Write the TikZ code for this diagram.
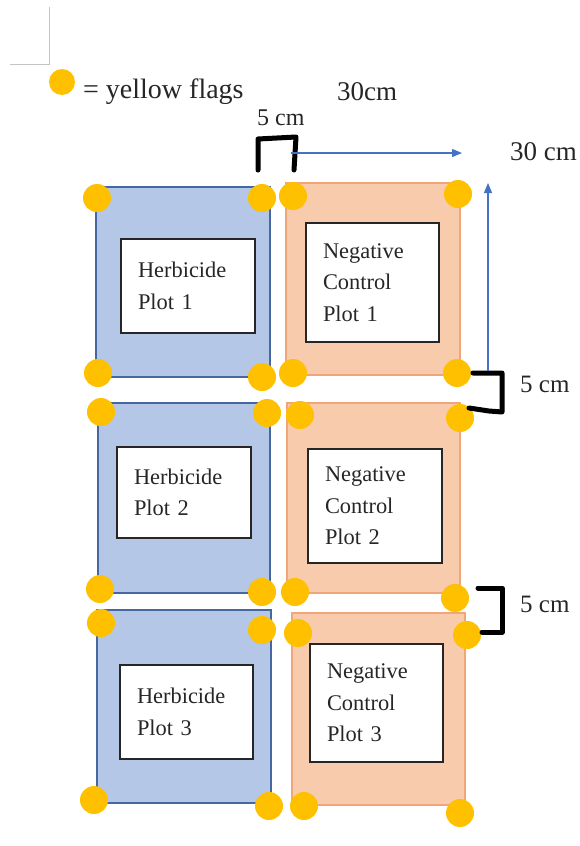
\documentclass[tikz,border=0pt]{standalone}
\usepackage{fontspec}
\setmainfont{Liberation Serif}
\usetikzlibrary{arrows.meta}

\definecolor{flagyellow}{HTML}{FFC000}
\definecolor{herbfill}{HTML}{B4C7E7}
\definecolor{herbline}{HTML}{46679F}
\definecolor{ctrlfill}{HTML}{F8CBAD}
\definecolor{ctrlline}{HTML}{F1A67A}
\definecolor{boxline}{HTML}{262626}
\definecolor{textgray}{HTML}{262626}
\definecolor{dimblue}{HTML}{4472C4}
\definecolor{guidegray}{HTML}{C4C4C4}

\tikzset{
  herbplot/.style={draw=herbline, fill=herbfill, line width=1.5pt, inner sep=0pt},
  ctrlplot/.style={draw=ctrlline, fill=ctrlfill, line width=1.5pt, inner sep=0pt},
  labelbox/.style={draw=boxline, fill=white, line width=2pt, align=left,
    inner xsep=17pt, inner ysep=0pt, text=textgray,
    font=\fontsize{22.4}{31.5}\selectfont},
  flag/.style={circle, fill=flagyellow, inner sep=0pt, minimum size=28pt},
  brace/.style={draw=black, line width=5pt, line join=round, line cap=round},
  dimarrow/.style={draw=dimblue, line width=1.2pt, -{Triangle[length=10pt,width=8pt]}},
  guideline/.style={draw=guidegray, line width=1pt},
  caption/.style={anchor=base west, inner sep=0pt, text=textgray}
}

\begin{document}
\begin{tikzpicture}[x=1pt, y=-1pt]
\useasboundingbox (0,0) rectangle (580,846);

% corner guide
\coordinate (g1) at (49,7);
\coordinate (g2) at (49,64);
\coordinate (g3) at (10,64);
\draw[guideline] (g1) -- (g2) -- (g3);

% legend
\node[flag, minimum size=26pt] (legdot) at (62,82) {};
\node[caption, font=\fontsize{28}{30}\selectfont] (legtext) at (83,98) {= yellow flags};

% dimension captions
\node[caption, font=\fontsize{27}{30}\selectfont] (widthtop) at (337,100) {30cm};
\node[caption, font=\fontsize{24}{28}\selectfont] (gaptop) at (257,125) {5 cm};
\node[caption, font=\fontsize{27}{30}\selectfont] (heightright) at (510,160) {30 cm};
\node[caption, font=\fontsize{25}{28}\selectfont] (gapright1) at (520,392) {5 cm};
\node[caption, font=\fontsize{25}{28}\selectfont] (gapright2) at (520,612) {5 cm};

% herbicide plots
\node[herbplot, minimum width=174pt, minimum height=190pt] (hplot1) at (183,282) {};
\node[herbplot, minimum width=172pt, minimum height=190pt] (hplot2) at (184,498) {};
\node[herbplot, minimum width=174pt, minimum height=193pt] (hplot3) at (184,706.5) {};

% negative control plots
\node[ctrlplot, minimum width=174pt, minimum height=192pt] (cplot1) at (373,279) {};
\node[ctrlplot, minimum width=173pt, minimum height=190pt] (cplot2) at (373.5,498) {};
\node[ctrlplot, minimum width=173pt, minimum height=192pt] (cplot3) at (378.5,709) {};

% plot labels
\node[labelbox, text width=100pt, minimum height=94pt] (hlabel1) at (188,286) {Herbicide\\Plot 1};
\node[labelbox, text width=100pt, minimum height=91pt] (hlabel2) at (184,492.5) {Herbicide\\Plot 2};
\node[labelbox, text width=99pt, minimum height=94pt] (hlabel3) at (186.5,712) {Herbicide\\Plot 3};
\node[labelbox, text width=99pt, minimum height=119pt] (clabel1) at (372.5,282.5) {Negative\\Control\\Plot 1};
\node[labelbox, text width=100pt, minimum height=114pt] (clabel2) at (375,506) {Negative\\Control\\Plot 2};
\node[labelbox, text width=99pt, minimum height=118pt] (clabel3) at (376.5,703) {Negative\\Control\\Plot 3};

% yellow corner flags
\foreach \n/\x/\y in {
  r1a/97/198, r1b/262/198, r1c/293/196, r1d/458/194,
  r1e/98/373, r1f/262/377, r1g/293/373, r1h/457/373,
  r2a/101/412, r2b/267/413, r2c/300/415, r2d/460/418,
  r2e/100/589, r2f/262/592, r2g/295/592, r2h/455/598,
  r3a/101/623, r3b/262/630, r3c/298/633, r3d/467/635,
  r3e/94/800, r3f/269/806, r3g/304/806, r3h/460/813}
  \node[flag] (flag-\n) at (\x,\y) {};

% 5 cm gap brackets
\coordinate (ta) at (258,170);
\coordinate (tb) at (258,139);
\coordinate (tc) at (296,137);
\coordinate (td) at (294,170);
\draw[brace] (ta) -- (tb) -- (tc) -- (td);

\coordinate (ra) at (473,373);
\coordinate (rb) at (502,373);
\coordinate (rc) at (502,412);
\coordinate (rd) at (489,411);
\coordinate (re) at (469,408);
\draw[brace] (ra) -- (rb) -- (rc) -- (rd) -- (re);

\coordinate (sa) at (478,588);
\coordinate (sb) at (502,588);
\coordinate (sc) at (502,632);
\coordinate (sd) at (482,632);
\draw[brace] (sa) -- (sb) -- (sc) -- (sd);

% 30 cm dimension arrows
\coordinate (hs) at (291,153);
\coordinate (he) at (462,153);
\draw[dimarrow] (hs) -- (he);
\coordinate (vs) at (488,371);
\coordinate (ve) at (488,183);
\draw[dimarrow] (vs) -- (ve);
\end{tikzpicture}
\end{document}
